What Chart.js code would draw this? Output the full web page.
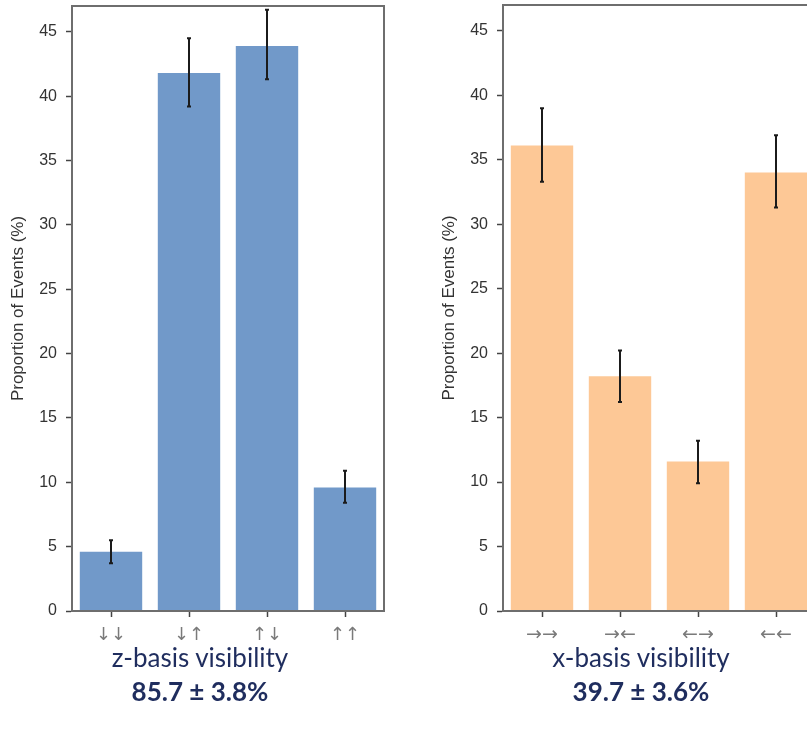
<!DOCTYPE html>
<html>
<head>
<meta charset="utf-8">
<script src="https://cdn.jsdelivr.net/npm/chart.js@4/dist/chart.umd.min.js"></script>
<style>
  html, body { margin: 0; padding: 0; width: 807px; height: 729px; overflow: hidden; background: #fff; }
  .panel { position: absolute; top: 0; }
  .caption { position: absolute; width: 300px; text-align: center; color: #1f2d5e; font-family: Lato, "Open Sans", sans-serif; font-size: 26px; line-height: 1; }
  .caption b { display: block; margin-top: 8px; font-weight: 700; }
</style>
</head>
<body>
<div class="panel" style="left:0px;"><canvas id="zChart" width="400" height="650"></canvas></div>
<div class="panel" style="left:431px;"><canvas id="xChart" width="400" height="650"></canvas></div>
<div class="caption" style="left:50px; top:644px;">z-basis visibility<b>85.7 ± 3.8%</b></div>
<div class="caption" style="left:491px; top:644px;">x-basis visibility<b>39.7 ± 3.6%</b></div>
<script>
// z-basis outcomes
const zLabels = ['↓↓', '↓↑', '↑↓', '↑↑'];
const zValues = [4.6, 41.8, 43.9, 9.6];
const zErrLow = [3.7, 39.2, 41.3, 8.4];
const zErrHigh = [5.5, 44.5, 46.7, 10.9];

// x-basis outcomes
const xLabels = ['→→', '→←', '←→', '←←'];
const xValues = [36.1, 18.2, 11.6, 34.0];
const xErrLow = [33.3, 16.2, 9.9, 31.3];
const xErrHigh = [39.0, 20.2, 13.2, 36.9];

const yTicks = [0, 5, 10, 15, 20, 25, 30, 35, 40, 45];

// Error bars from the low/high arrays, placed with the chart's own scales
const errorBars = {
  id: 'errorBars',
  afterDatasetsDraw(chart, args, opts) {
    const { ctx, scales: { x, y } } = chart;
    ctx.save();
    ctx.strokeStyle = '#1b1b1b';
    ctx.lineWidth = 2;
    opts.low.forEach((lo, i) => {
      const px = x.getPixelForValue(i);
      const y1 = y.getPixelForValue(lo);
      const y2 = y.getPixelForValue(opts.high[i]);
      ctx.beginPath();
      ctx.moveTo(px, y1); ctx.lineTo(px, y2);
      ctx.moveTo(px - 2, y1); ctx.lineTo(px + 2, y1);
      ctx.moveTo(px - 2, y2); ctx.lineTo(px + 2, y2);
      ctx.stroke();
    });
    ctx.restore();
  }
};

// Box around the plotting area
const frame = {
  id: 'frame',
  afterDraw(chart) {
    const { ctx, chartArea: a } = chart;
    ctx.save();
    ctx.strokeStyle = '#6e6e6e';
    ctx.lineWidth = 2;
    ctx.strokeRect(a.left, a.top, a.right - a.left, a.bottom - a.top);
    ctx.restore();
  }
};

function makeChart(id, labels, values, low, high, color, topPad, tickFont, tickPad) {
  return new Chart(document.getElementById(id), {
    type: 'bar',
    data: {
      labels: labels,
      datasets: [{ data: values, backgroundColor: color, borderWidth: 0, barPercentage: 0.8, categoryPercentage: 1.0 }]
    },
    options: {
      responsive: false,
      devicePixelRatio: 1,
      animation: false,
      layout: { padding: { top: topPad, right: 16, left: 0, bottom: 0 } },
      plugins: { legend: { display: false }, tooltip: { enabled: false }, errorBars: { low: low, high: high } },
      scales: {
        x: {
          grid: { drawOnChartArea: false, drawTicks: true, tickLength: 6, tickColor: '#444', tickWidth: 1.5, offset: false },
          border: { display: true, color: '#555', width: 2 },
          ticks: { color: '#7a7a7a', font: tickFont, padding: tickPad },
          afterFit(s) { s.height = 39; s.paddingLeft = 0; s.paddingRight = 0; }
        },
        y: {
          min: 0,
          max: 47,
          afterBuildTicks(s) { s.ticks = yTicks.map(v => ({ value: v })); },
          grid: { drawOnChartArea: false, drawTicks: true, tickLength: 6, tickColor: '#444', tickWidth: 1.5 },
          border: { display: true, color: '#6e6e6e', width: 2 },
          ticks: { color: '#333', font: { family: 'Liberation Sans, Arial, sans-serif', size: 16 }, padding: 9 },
          title: { display: true, text: 'Proportion of Events (%)', color: '#333', font: { family: 'Liberation Sans, Arial, sans-serif', size: 17 }, padding: { top: 8, bottom: 0 } },
          afterFit(s) { s.width = 72; s.paddingTop = 0; s.paddingBottom = 0; }
        }
      }
    },
    plugins: [errorBars, frame]
  });
}

makeChart('zChart', zLabels, zValues, zErrLow, zErrHigh, '#7199c9', 6, { family: 'DejaVu Sans, sans-serif', size: 18 }, 8);
makeChart('xChart', xLabels, xValues, xErrLow, xErrHigh, '#fdc896', 5, { family: 'DejaVu Sans, sans-serif', size: 19 }, 7);
</script>
</body>
</html>
